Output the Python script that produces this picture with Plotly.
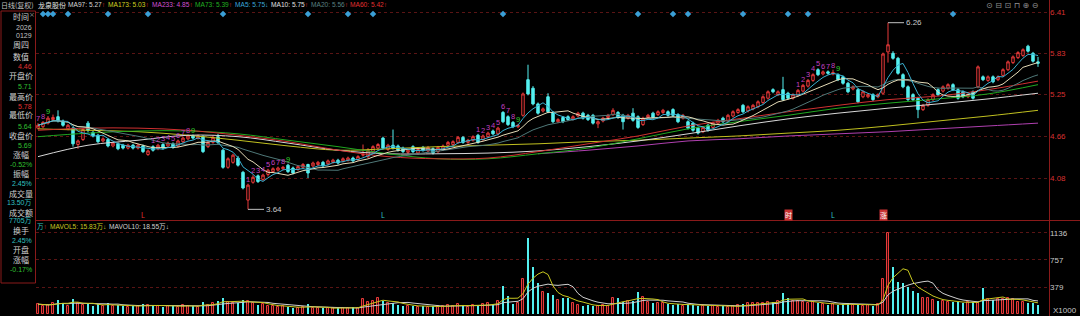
import plotly.graph_objects as go
import pandas as pd

# ---------------- data ----------------
opens = [4.78,4.80,4.85,4.90,4.94,4.88,4.77,4.78,4.55,4.62,
         4.85,4.72,4.68,4.60,4.62,4.53,4.56,4.54,4.50,4.54,
         4.50,4.53,4.41,4.52,4.49,4.55,4.53,4.56,4.53,4.59,
         4.63,4.67,4.64,4.66,4.52,4.58,4.66,4.47,4.23,4.30,
         4.36,4.16,3.77,4.02,4.11,4.06,4.13,4.17,4.19,4.21,
         4.26,4.22,4.20,4.23,4.27,4.25,4.27,4.30,4.28,4.30,
         4.33,4.32,4.33,4.36,4.34,4.40,4.38,4.45,4.50,4.64,
         4.48,4.54,4.53,4.50,4.44,4.52,4.43,4.51,4.46,4.49,
         4.45,4.48,4.54,4.55,4.58,4.65,4.58,4.61,4.68,4.62,
         4.66,4.74,4.70,5.00,4.94,4.86,4.80,4.96,5.46,5.34,
         5.12,5.02,5.22,5.00,4.87,4.93,4.94,4.91,4.95,4.99,
         4.96,4.96,4.84,4.88,4.93,4.97,5.00,4.96,4.92,4.99,
         4.94,4.83,4.93,4.99,4.97,5.00,5.01,5.04,4.97,4.92,
         4.87,4.85,4.78,4.73,4.82,4.79,4.85,4.92,4.88,4.95,
         5.00,5.10,5.02,5.05,5.08,5.14,5.20,5.32,5.25,5.32,
         5.27,5.20,5.24,5.30,5.37,5.45,5.60,5.54,5.57,5.54,
         5.53,5.50,5.41,5.33,5.32,5.22,5.22,5.25,5.22,5.27,
         5.85,5.83,5.76,5.53,5.36,5.25,5.20,5.04,5.10,5.18,
         5.32,5.30,5.34,5.39,5.32,5.29,5.22,5.29,5.36,5.50,
         5.45,5.50,5.46,5.52,5.60,5.70,5.77,5.80,5.93,5.83,
         5.71]
highs = [4.85,4.88,4.95,4.97,5.03,4.90,4.84,4.80,4.62,4.78,
         4.88,4.74,4.70,4.65,4.64,4.59,4.58,4.56,4.56,4.56,
         4.56,4.55,4.48,4.54,4.56,4.57,4.59,4.58,4.62,4.66,
         4.69,4.69,4.69,4.68,4.60,4.68,4.70,4.49,4.37,4.42,
         4.39,4.18,4.00,4.12,4.13,4.14,4.21,4.23,4.24,4.25,
         4.28,4.24,4.26,4.29,4.28,4.31,4.32,4.32,4.34,4.35,
         4.35,4.37,4.38,4.38,4.40,4.55,4.50,4.54,4.57,4.66,
         4.56,4.76,4.55,4.52,4.49,4.54,4.50,4.53,4.53,4.51,
         4.53,4.55,4.60,4.61,4.67,4.67,4.63,4.68,4.70,4.69,
         4.73,4.76,4.80,5.02,4.96,4.88,4.84,5.28,5.67,5.37,
         5.14,5.07,5.27,5.02,4.92,4.95,4.96,4.96,5.01,5.01,
         4.98,4.98,4.89,4.94,4.98,5.06,5.02,4.98,4.98,5.06,
         4.96,4.94,4.98,5.01,5.03,5.05,5.03,5.06,4.99,4.98,
         4.89,4.87,4.80,4.81,4.84,4.87,4.91,4.94,4.98,5.03,
         5.06,5.12,5.10,5.12,5.17,5.24,5.31,5.34,5.31,5.50,
         5.29,5.27,5.33,5.40,5.47,5.55,5.62,5.59,5.59,5.60,
         5.55,5.52,5.43,5.38,5.34,5.31,5.27,5.27,5.27,5.84,
         6.26,5.86,5.78,5.55,5.38,5.27,5.22,5.12,5.20,5.27,
         5.34,5.38,5.41,5.41,5.34,5.31,5.27,5.31,5.66,5.52,
         5.52,5.52,5.52,5.62,5.73,5.80,5.86,5.90,5.95,5.85,
         5.78]
lows = [4.76,4.78,4.83,4.88,4.86,4.80,4.75,4.52,4.49,4.60,
        4.72,4.65,4.57,4.58,4.51,4.51,4.47,4.48,4.48,4.48,
        4.48,4.43,4.39,4.45,4.47,4.48,4.51,4.49,4.51,4.57,
        4.61,4.62,4.62,4.43,4.50,4.56,4.55,4.21,4.21,4.28,
        4.24,3.92,3.64,4.00,4.01,4.04,4.10,4.15,4.17,4.19,
        4.15,4.13,4.18,4.21,4.08,4.23,4.25,4.23,4.26,4.28,
        4.27,4.30,4.31,4.30,4.32,4.38,4.36,4.43,4.48,4.48,
        4.46,4.48,4.45,4.43,4.42,4.43,4.41,4.45,4.44,4.41,
        4.43,4.46,4.52,4.53,4.56,4.56,4.56,4.59,4.56,4.60,
        4.64,4.68,4.68,4.85,4.81,4.78,4.78,4.94,5.24,5.10,
        4.97,5.00,4.99,4.85,4.85,4.85,4.88,4.89,4.93,4.90,
        4.88,4.83,4.78,4.86,4.91,4.95,4.91,4.76,4.90,4.87,
        4.77,4.81,4.91,4.91,4.95,4.98,4.94,4.94,4.85,4.90,
        4.76,4.73,4.69,4.71,4.73,4.77,4.83,4.85,4.86,4.93,
        4.98,4.99,5.00,5.03,5.06,5.12,5.18,5.27,5.23,5.16,
        5.18,5.18,5.22,5.28,5.35,5.43,5.51,5.52,5.53,5.52,
        5.44,5.39,5.27,5.31,5.13,5.20,5.20,5.16,5.20,5.25,
        5.70,5.74,5.53,5.34,5.16,5.16,4.92,5.02,5.08,5.16,
        5.23,5.28,5.32,5.30,5.18,5.20,5.20,5.18,5.34,5.44,
        5.43,5.41,5.44,5.50,5.58,5.68,5.75,5.78,5.84,5.70,
        5.64]
closes = [4.82,4.86,4.92,4.93,4.88,4.82,4.82,4.56,4.60,4.76,
          4.75,4.67,4.59,4.63,4.53,4.57,4.49,4.50,4.54,4.50,
          4.54,4.45,4.46,4.47,4.54,4.50,4.57,4.51,4.60,4.64,
          4.67,4.64,4.67,4.45,4.58,4.65,4.58,4.23,4.35,4.40,
          4.26,3.94,3.98,4.09,4.03,4.12,4.19,4.21,4.22,4.23,
          4.17,4.15,4.24,4.27,4.15,4.29,4.30,4.25,4.32,4.33,
          4.29,4.35,4.36,4.32,4.38,4.41,4.47,4.52,4.55,4.50,
          4.54,4.50,4.47,4.45,4.47,4.45,4.48,4.47,4.51,4.43,
          4.51,4.53,4.58,4.59,4.65,4.58,4.61,4.66,4.58,4.67,
          4.71,4.70,4.78,4.87,4.83,4.80,4.82,5.26,5.26,5.12,
          4.99,5.05,5.01,4.87,4.90,4.87,4.90,4.94,4.99,4.92,
          4.90,4.85,4.87,4.92,4.96,5.03,4.93,4.87,4.96,4.89,
          4.79,4.92,4.96,4.93,5.01,5.03,4.96,4.96,4.87,4.96,
          4.78,4.75,4.71,4.79,4.75,4.85,4.89,4.87,4.96,5.01,
          5.04,5.01,5.08,5.10,5.15,5.22,5.29,5.29,5.29,5.18,
          5.20,5.25,5.31,5.38,5.45,5.53,5.53,5.57,5.55,5.56,
          5.46,5.41,5.29,5.36,5.15,5.29,5.25,5.18,5.25,5.82,
          5.95,5.76,5.55,5.36,5.18,5.18,5.04,5.10,5.18,5.25,
          5.25,5.36,5.39,5.32,5.20,5.22,5.25,5.20,5.64,5.46,
          5.50,5.43,5.50,5.60,5.71,5.78,5.84,5.88,5.86,5.72,
          5.69]
volumes = [140,120,130,150,200,160,120,210,150,130,
           150,120,140,110,150,120,130,110,100,120,
           110,140,130,120,110,100,120,110,100,130,
           120,110,100,170,130,150,190,230,170,150,
           160,200,190,150,130,140,120,110,100,110,
           100,90,90,100,140,90,80,90,80,80,
           90,80,90,100,90,210,170,180,225,190,
           160,150,130,120,110,120,100,110,100,110,
           120,110,130,120,140,110,100,130,120,140,
           150,140,180,395,250,145,150,490,1063,660,
           435,310,300,270,200,225,220,150,130,120,
           130,120,110,130,120,225,225,170,190,190,
           310,240,170,150,150,150,140,130,140,120,
           140,130,120,110,120,110,100,110,100,110,
           130,140,150,160,150,160,170,170,180,300,
           225,190,180,170,160,170,150,140,130,140,
           130,140,150,130,140,120,130,120,140,490,
           1136,658,450,435,380,325,295,225,225,200,
           190,180,170,170,165,160,165,170,160,365,
           210,200,210,215,220,219,170,170,160,156,
           135]  # thousand shares

# long moving averages, every 10th bar
ma_long_idx = list(range(0, 201, 10))
ma60 = [4.75,4.78,4.78,4.75,4.68,4.59,4.47,4.38,4.35,4.36,4.45,
        4.56,4.67,4.81,4.91,5.01,5.10,5.18,5.23,5.32,5.44]
ma73 = [4.66,4.71,4.74,4.74,4.70,4.61,4.52,4.42,4.35,4.35,4.42,
        4.50,4.63,4.77,4.87,4.96,5.06,5.13,5.19,5.26,5.39]
ma97 = [4.38,4.54,4.61,4.68,4.66,4.57,4.47,4.42,4.42,4.43,4.46,
        4.52,4.60,4.70,4.81,4.91,4.99,5.06,5.12,5.19,5.27]
ma173 = [4.77,4.75,4.73,4.68,4.61,4.53,4.47,4.49,4.52,4.54,4.56,
         4.59,4.61,4.64,4.67,4.71,4.75,4.81,4.88,4.95,5.03]
ma233 = [None]*10 + [4.42,4.47,4.53,4.60,4.63,4.67,4.70,4.73,4.77,4.81,4.85]

price_ticks = [4.08, 4.66, 5.25, 5.83, 6.41]
vol_ticks = [379, 757, 1136]

signal_idx = [1,2,3,6,14,22,37,54,62,67,93,120,127,130,141,150,154,183]
td_starts = [(0, 7), (23, 1), (42, 1), (88, 1), (152, 1)]
bottom_marks = [(21, 'L', '#e03030', None), (69, 'L', '#30c8c8', None),
                (150, '时', '#ffffff', '#c83232'), (159, 'L', '#30c8c8', None),
                (169, '涨', '#ffffff', '#c83232')]

legend_items = [("MA97", "5.27", "↑", "#d8d8d8"), ("MA173", "5.03", "↑", "#d0d020"),
                ("MA233", "4.85", "↑", "#d050d0"), ("MA73", "5.39", "↑", "#20b020"),
                ("MA5", "5.75", "↓", "#3aa8dc"), ("MA10", "5.75", "↑", "#e0e0e0"),
                ("MA20", "5.56", "↑", "#5a8080"), ("MA60", "5.42", "↑", "#e03030")]
legend_x = [67, 107, 151, 194, 234, 270, 310, 349]

panel_rows = [("时间", "#d0d0d0"), ("2026", "#c0c0c0"), ("0129", "#c0c0c0"), ("周四", "#d0d0d0"),
              ("数值", "#d0d0d0"), ("4.46", "#e03030"), ("开盘价", "#d0d0d0"), ("5.71", "#30c030"),
              ("最高价", "#d0d0d0"), ("5.78", "#e03030"), ("最低价", "#d0d0d0"), ("5.64", "#30c030"),
              ("收盘价", "#d0d0d0"), ("5.69", "#30c030"), ("涨幅", "#d0d0d0"), ("-0.52%", "#30c030"),
              ("振幅", "#d0d0d0"), ("2.45%", "#30c0c0"), ("成交量", "#d0d0d0"), ("13.50万", "#30c0c0"),
              ("成交额", "#d0d0d0"), ("7705万", "#30c0c0"), ("换手", "#d0d0d0"), ("2.45%", "#30c0c0"),
              ("开盘", "#d0d0d0"), ("涨幅", "#d0d0d0"), ("-0.17%", "#30c030")]
panel_y = [17, 27, 36, 45, 56, 66, 76, 86, 96, 106, 115, 126, 135, 145, 155, 164,
           173, 183, 193, 203, 212, 221, 230, 240, 249, 259, 269]

# ---------------- styling ----------------
W, H = 1080, 316
RED = '#e83a3a'
CYAN = '#54f0f0'
GRID = '#5a1414'
FRAME = '#8a1a1a'
NUM_FONT = "Liberation Sans, Arial, Noto Sans CJK SC"
CJK_FONT = "Noto Sans CJK SC, Liberation Sans"


def px(x):
    return x / W


def py(y):
    return 1 - y / H


idx = list(range(len(closes)))
cs = pd.Series(closes)
ma5 = cs.rolling(5, min_periods=1).mean()
ma10 = cs.rolling(10, min_periods=1).mean()
ma20 = cs.rolling(20, min_periods=1).mean()
vs = pd.Series(volumes)
mavol5 = vs.rolling(5, min_periods=1).mean()
mavol10 = vs.rolling(10, min_periods=1).mean()

up = [c >= o for o, c in zip(opens, closes)]

fig = go.Figure()

# long MAs (behind candles)
for vals, col in [(ma233, '#b040b0'), (ma173, '#c0c020'), (ma97, '#d8d8d8'),
                  (ma73, '#20a820'), (ma60, '#d03030')]:
    fig.add_trace(go.Scatter(x=ma_long_idx, y=vals, mode='lines', line=dict(color=col, width=1),
                             xaxis='x', yaxis='y', hoverinfo='skip', showlegend=False,
                             line_shape='spline'))
for vals, col in [(ma20, '#4f7878'), (ma10, '#e6dcb8'), (ma5, '#3ab0d0')]:
    fig.add_trace(go.Scatter(x=idx, y=vals, mode='lines', line=dict(color=col, width=1),
                             xaxis='x', yaxis='y', hoverinfo='skip', showlegend=False))

fig.add_trace(go.Candlestick(
    x=idx, open=opens, high=highs, low=lows, close=closes,
    increasing=dict(line=dict(color=RED, width=1), fillcolor='#000000'),
    decreasing=dict(line=dict(color=CYAN, width=1), fillcolor=CYAN),
    whiskerwidth=0, xaxis='x', yaxis='y', showlegend=False, hoverinfo='skip'))

# TD sequential counts
td_x, td_y, td_t, td_c = [], [], [], []
for start, first in td_starts:
    for k, n in enumerate(range(first, 10)):
        i = start + k
        td_x.append(i)
        td_y.append(highs[i])
        td_t.append(str(n))
        td_c.append('#30d030' if n == 9 else '#c040c0')
fig.add_trace(go.Scatter(x=td_x, y=td_y, mode='text', text=td_t, textposition='top center',
                         textfont=dict(color=td_c, size=7.5, family=NUM_FONT),
                         xaxis='x', yaxis='y', hoverinfo='skip', showlegend=False))

# signal diamonds along the top
fig.add_trace(go.Scatter(x=signal_idx, y=[0.936] * len(signal_idx), mode='markers',
                         marker=dict(symbol='diamond', size=5, color='#3a9fd6'),
                         xaxis='x', yaxis='y3', hoverinfo='skip', showlegend=False))

# volume
fig.add_trace(go.Bar(x=idx, y=volumes, width=0.56,
                     marker=dict(color=['#3a0808' if u else CYAN for u in up],
                                 line=dict(color=[RED if u else CYAN for u in up],
                                           width=[1 if u else 0 for u in up])),
                     xaxis='x2', yaxis='y2', hoverinfo='skip', showlegend=False))
fig.add_trace(go.Scatter(x=idx, y=mavol10, mode='lines', line=dict(color='#d0d0d0', width=1),
                         xaxis='x2', yaxis='y2', hoverinfo='skip', showlegend=False))
fig.add_trace(go.Scatter(x=idx, y=mavol5, mode='lines', line=dict(color='#c8c820', width=1),
                         xaxis='x2', yaxis='y2', hoverinfo='skip', showlegend=False))

xr = [-0.4, 202.2]
xdom = [px(36), px(1049)]
p_top = 6.41 + 12 * 0.014036
p_bot = 6.41 - 207 * 0.014036

fig.update_layout(
    width=W, height=H, margin=dict(l=0, r=0, t=0, b=0),
    paper_bgcolor='#000000', plot_bgcolor='#000000',
    showlegend=False, bargap=0,
    xaxis=dict(domain=xdom, range=xr, visible=False, rangeslider=dict(visible=False), anchor='y'),
    xaxis2=dict(domain=xdom, range=xr, visible=False, anchor='y2', matches='x'),
    yaxis=dict(domain=[py(219), 1], range=[p_bot, p_top], side='right', anchor='x',
               tickvals=price_ticks, ticktext=[f"{v:.2f}" for v in price_ticks],
               tickfont=dict(color='#d83030', size=8, family=NUM_FONT),
               showgrid=True, gridcolor=GRID, griddash='dot', gridwidth=1,
               zeroline=False, showline=False, ticks=''),
    yaxis3=dict(domain=[py(219), 1], range=[0, 1], overlaying='y', visible=False, anchor='x'),
    yaxis2=dict(domain=[0, py(221)], range=[-25, 1300], side='right', anchor='x2',
                tickvals=vol_ticks, ticktext=[str(v) for v in vol_ticks],
                tickfont=dict(color='#c8c8c8', size=8, family=NUM_FONT),
                showgrid=True, gridcolor=GRID, griddash='dot', gridwidth=1,
                zeroline=False, showline=False, ticks=''),
)

shapes = [
    dict(type='line', xref='paper', yref='paper', x0=px(1049.5), x1=px(1049.5), y0=0, y1=1,
         line=dict(color=FRAME, width=1)),
    dict(type='line', xref='paper', yref='paper', x0=px(36), x1=1, y0=py(220.5), y1=py(220.5),
         line=dict(color=FRAME, width=1)),
    dict(type='rect', xref='paper', yref='paper', x0=px(1), x1=px(35.5), y0=py(283), y1=py(11),
         line=dict(color=FRAME, width=1)),
]
fig.update_layout(shapes=shapes)

ann = []


def txt(x, y, s, color, size=7, family=NUM_FONT, xanchor='left'):
    ann.append(dict(xref='paper', yref='paper', x=px(x), y=py(y), text=s, showarrow=False,
                    xanchor=xanchor, yanchor='middle', font=dict(color=color, size=size, family=family),
                    borderpad=0))


# top legend
txt(0, 5, "日线(复权)", '#c0c0c0', 7, CJK_FONT)
txt(37, 5, "龙泉股份", '#e0e0e0', 7, CJK_FONT)
for (name, val, arr, col), x in zip(legend_items, legend_x):
    acol = '#e03030' if arr == '↑' else col
    txt(x, 5, f"{name}: {val}<span style='color:{acol}'>{arr}</span>", col, 6.6)

# icons top right
txt(985, 6, "⊙ ⊟ ⊡ ⊓ ⊕ ⊖", '#909090', 8, "DejaVu Sans")

# left info panel
for (s, col), y in zip(panel_rows, panel_y):
    is_num = any(ch.isdigit() for ch in s)
    if is_num:
        txt(33, y, s, col, 7, NUM_FONT, xanchor='right')
    else:
        txt(21, y, s, col, 8, CJK_FONT, xanchor='center')
txt(32, 15, "×", '#808080', 7, "DejaVu Sans", xanchor='center')

# volume legend
txt(36, 227, "万<span style='color:#e03030'>↑</span>", '#30c0c0', 6.6, NUM_FONT)
txt(49, 227, "MAVOL5: 15.83万↓", '#c8c820', 6.6, NUM_FONT)
txt(108, 227, "MAVOL10: 18.55万↓", '#d0d0d0', 6.6, NUM_FONT)
txt(1052, 310, "X1000", '#c8c8c8', 8)

# extreme labels
lo_i = min(idx, key=lambda i: lows[i])
hi_i = max(idx, key=lambda i: highs[i])
for i, v in [(lo_i, lows[lo_i]), (hi_i, highs[hi_i])]:
    ann.append(dict(xref='x', yref='y', x=i, y=v, text=f"{v:.2f}", showarrow=True, arrowhead=0,
                    arrowwidth=1, arrowcolor='#c0c0c0', ax=16, ay=0, xanchor='left',
                    font=dict(color='#c8c8c8', size=8, family=NUM_FONT)))

# bottom markers of price pane
for i, s, col, bg in bottom_marks:
    d = dict(xref='x', yref='paper', x=i, y=py(215), text=s, showarrow=False,
             font=dict(color=col, size=7, family=CJK_FONT), yanchor='middle', xanchor='center',
             borderpad=0)
    if bg:
        d['bgcolor'] = bg
    ann.append(d)

fig.update_layout(annotations=ann)
fig.write_html("out.html")
